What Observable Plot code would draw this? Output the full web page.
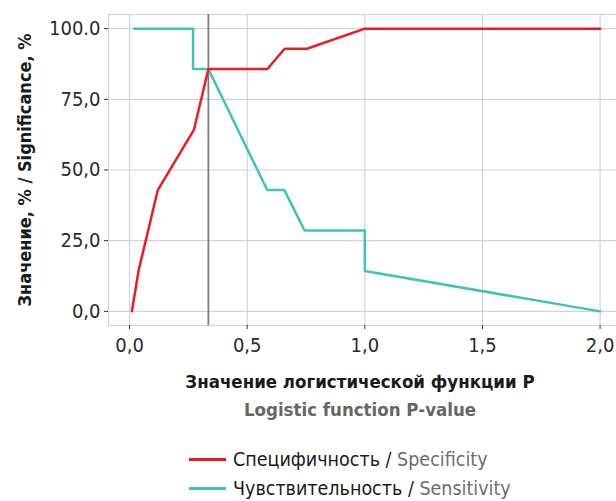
<!DOCTYPE html>
<html>
<head>
<meta charset="utf-8">
<script src="https://cdn.jsdelivr.net/npm/d3@7"></script>
<script src="https://cdn.jsdelivr.net/npm/@observablehq/plot@0.6"></script>
<style>
  html, body { margin: 0; padding: 0; background: #fff; overflow: hidden; }
  body { width: 616px; height: 501px; position: relative;
    font-family: "DejaVu Sans Condensed", "DejaVu Sans", sans-serif; font-stretch: condensed; }
  #chart svg { overflow: hidden; display: block; }
  .xt { position: absolute; left: 108px; width: 504px; text-align: center; font-weight: bold; font-size: 18.5px; line-height: 22px; white-space: nowrap; }
  .leg { position: absolute; left: 189px; font-size: 19.5px; line-height: 22px; color: #1a1a1a; white-space: nowrap; }
  .leg .sw { display: inline-block; width: 37px; height: 2.5px; vertical-align: middle; margin-right: 7px; position: relative; top: -1px; }
  .gray { color: #6e6e6e; }
</style>
</head>
<body>
<div id="chart"></div>
<div class="xt" style="top:371px; color:#1a1a1a;">Значение логистической функции P</div>
<div class="xt" style="top:399px; color:#666;">Logistic function P-value</div>
<div class="leg" style="top:449px;"><span class="sw" style="background:#ec1c24"></span>Специфичность / <span class="gray">Specificity</span></div>
<div class="leg" style="top:478px;"><span class="sw" style="background:#3fc3b9"></span>Чувствительность / <span class="gray">Sensitivity</span></div>
<script>
// Specificity (red)
const specX = [0.01, 0.038, 0.12, 0.274, 0.335, 0.586, 0.659, 0.754, 1.0, 2.0];
const specY = [0, 14.3, 42.9, 64.3, 85.7, 85.7, 92.9, 92.9, 100, 100];
// Sensitivity (teal)
const sensX = [0.02, 0.27, 0.27, 0.335, 0.585, 0.658, 0.744, 1.0, 1.0, 2.0];
const sensY = [100, 100, 85.7, 85.7, 42.9, 42.9, 28.6, 28.6, 14.3, 0];
// cutoff
const cutoff = [0.335];
// ticks
const xTicks = [0, 0.5, 1.0, 1.5, 2.0];
const xTickLabels = ["0,0", "0,5", "1,0", "1,5", "2,0"];
const yTicks = [0, 25, 50, 75, 100];
const yTickLabels = ["0,0", "25,0", "50,0", "75,0", "100.0"];
const yTitle = "Значение, % / Significance, %";

const spec = specX.map((x, i) => ({x, y: specY[i]}));
const sens = sensX.map((x, i) => ({x, y: sensY[i]}));

const chart = Plot.plot({
  width: 616,
  height: 360,
  marginLeft: 108,
  marginRight: -7,
  marginTop: 14,
  marginBottom: 35,
  style: {fontFamily: '"DejaVu Sans Condensed", "DejaVu Sans", sans-serif', fontSize: "20px", color: "#2a2a2a", background: "#fff"},
  x: {domain: [-0.0895, 2.0995]},
  y: {domain: [-5, 105]},
  marks: [
    Plot.gridX(xTicks, {stroke: "#d3d3d3", strokeOpacity: 1, strokeWidth: 1.2}),
    Plot.gridY(yTicks, {stroke: "#d3d3d3", strokeOpacity: 1, strokeWidth: 1.2}),
    Plot.frame({stroke: "#d3d3d3", strokeWidth: 1.2}),
    Plot.axisX(xTicks, {tickSize: 4, tickPadding: 8, tickFormat: (d, i) => xTickLabels[i], fontSize: 20, stroke: "#333", label: null}),
    Plot.axisY(yTicks, {tickSize: 4, tickPadding: 4, tickFormat: (d, i) => yTickLabels[i], fontSize: 20, label: null}),
    Plot.ruleX(cutoff, {stroke: "#7f7f7f", strokeWidth: 1.8}),
    Plot.line(sens, {x: "x", y: "y", stroke: "#3fc3b9", strokeWidth: 2.5}),
    Plot.line(spec, {x: "x", y: "y", stroke: "#ec1c24", strokeWidth: 2.5}),
    Plot.text([yTitle], {frameAnchor: "left", dx: -83, rotate: -90, textAnchor: "middle", text: d => d, fontWeight: "bold", fontSize: 18, fill: "#1a1a1a"})
  ]
});
document.getElementById("chart").appendChild(chart);
</script>
</body>
</html>
